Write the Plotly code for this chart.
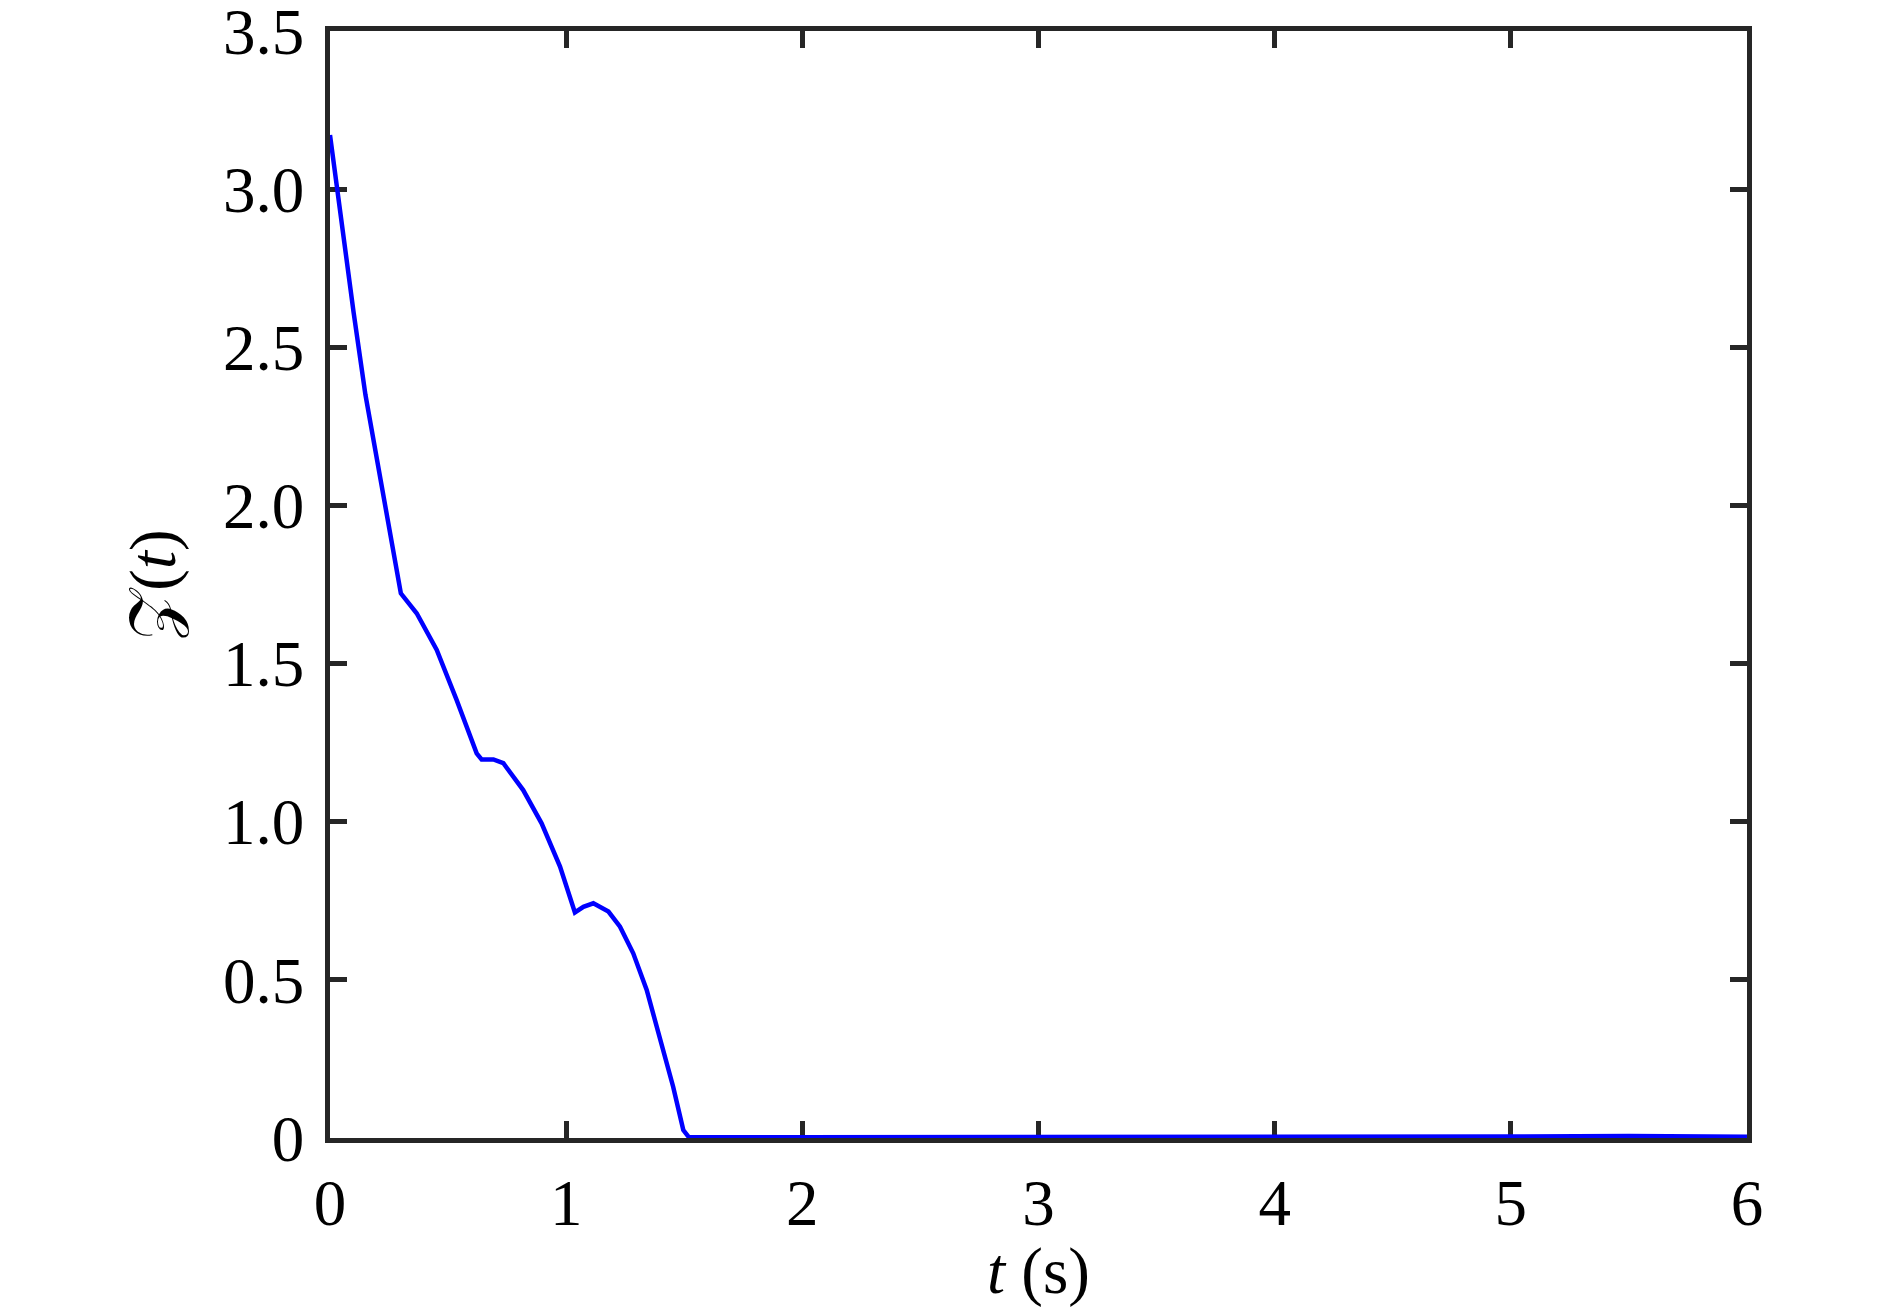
import plotly.graph_objects as go

t = [0.0, 0.028, 0.05, 0.10, 0.15, 0.20, 0.25, 0.300, 0.367, 0.452, 0.536, 0.621,
     0.642, 0.692, 0.734, 0.818, 0.896, 0.974, 1.037, 1.073, 1.115, 1.179, 1.228,
     1.284, 1.341, 1.397, 1.453, 1.496, 1.52, 2.0, 3.0, 4.0, 4.5, 5.0, 5.5, 6.0]
z = [3.171, 3.01, 2.89, 2.61, 2.35, 2.14, 1.92, 1.722, 1.659, 1.543, 1.385, 1.216,
     1.197, 1.197, 1.185, 1.100, 0.995, 0.858, 0.713, 0.731, 0.742, 0.716, 0.668,
     0.584, 0.468, 0.320, 0.162, 0.025, 0.002, 0.002, 0.002, 0.003, 0.004, 0.005, 0.006, 0.004]

xticks = [0, 1, 2, 3, 4, 5, 6]
yticks = [0, 0.5, 1.0, 1.5, 2.0, 2.5, 3.0, 3.5]
yticklabels = ["0", "0.5", "1.0", "1.5", "2.0", "2.5", "3.0", "3.5"]

FONT = "Liberation Serif"
FS = 65

fig = go.Figure()
fig.add_trace(go.Scatter(x=t, y=z, mode="lines",
                         line=dict(color="rgb(0,0,255)", width=4.5), showlegend=False))

axis_common = dict(showline=True, linecolor="#262626", linewidth=4.5, mirror="allticks",
                   ticks="inside", ticklen=17, tickwidth=4.5, tickcolor="#262626",
                   showgrid=False, zeroline=False, layer="below traces",
                   ticklabeloverflow="allow", automargin=False,
                   tickfont=dict(family=FONT, size=FS, color="black"))

fig.update_xaxes(range=[0, 6.00001], tickvals=xticks, ticktext=[str(v) for v in xticks],
                 ticklabelstandoff=4,
                 title=dict(text="<i>t</i> (s)", font=dict(family=FONT, size=FS, color="black"), standoff=16),
                 **axis_common)
fig.update_yaxes(range=[0, 3.50001], tickvals=yticks, ticktext=yticklabels,
                 ticklabelstandoff=8,
                 title=dict(text="𝒵(<i>t</i>)", font=dict(family=FONT, size=FS, color="black"), standoff=28),
                 **axis_common)

fig.update_layout(width=1882, height=1299, plot_bgcolor="white", paper_bgcolor="white",
                  margin=dict(l=322, r=143, t=23, b=169, autoexpand=False))

fig.write_html("out.html")
